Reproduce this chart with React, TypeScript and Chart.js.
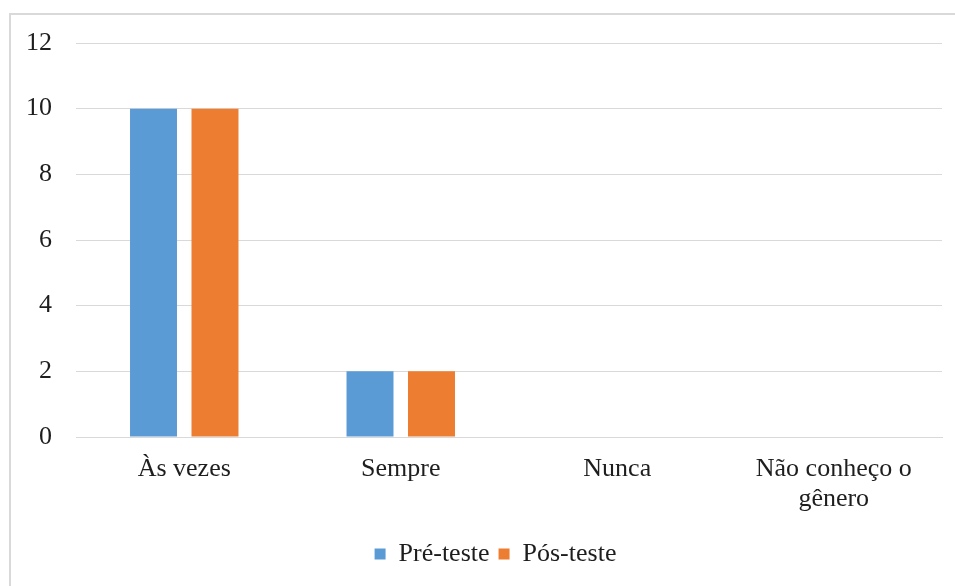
import React, { useEffect, useRef } from "react";
import { Chart, registerables } from "chart.js";

Chart.register(...registerables);

// Frequência das respostas, antes e depois da intervenção
const categories: (string | string[])[] = ["Às vezes", "Sempre", "Nunca", ["Não conheço o", "gênero"]];
const preTeste = [10, 2, 0, 0];
const posTeste = [10, 2, 0, 0];
const yTicks = [0, 2, 4, 6, 8, 10, 12];

const seriesNames = ["Pré-teste", "Pós-teste"];
const seriesColors = ["#5B9BD5", "#ED7D31"];

const FONT = "'Liberation Serif', 'Times New Roman', serif";
const GRID = "#d9d9d9";
const TEXT = "#1e1e1e";

// Thin frame around the chart object
const framePlugin = {
  id: "frame",
  beforeDraw(chart: Chart) {
    const { ctx, width, height } = chart;
    ctx.save();
    ctx.fillStyle = "#ffffff";
    ctx.fillRect(0, 0, width, height);
    ctx.strokeStyle = GRID;
    ctx.lineWidth = 2;
    ctx.beginPath();
    ctx.moveTo(10, height);
    ctx.lineTo(10, 14);
    ctx.lineTo(width, 14);
    ctx.stroke();
    ctx.restore();
  },
};

// Legend is centred on the span between the frame and the plot's right edge
const legendOffsetPlugin = {
  id: "legendOffset",
  afterLayout(chart: any) {
    const legend = chart.legend;
    if (legend) legend.left += 49;
  },
};

export default function App() {
  const ref = useRef<HTMLCanvasElement | null>(null);

  useEffect(() => {
    if (!ref.current) return;
    const chart = new Chart(ref.current, {
      type: "bar",
      data: {
        labels: categories,
        datasets: [
          {
            label: seriesNames[0],
            data: preTeste,
            backgroundColor: seriesColors[0],
            categoryPercentage: 0.568,
            barPercentage: 0.764,
          },
          {
            label: seriesNames[1],
            data: posTeste,
            backgroundColor: seriesColors[1],
            categoryPercentage: 0.568,
            barPercentage: 0.764,
          },
        ],
      },
      options: {
        responsive: false,
        animation: false,
        layout: { padding: { left: 0, right: 13, top: 43, bottom: 9 } },
        plugins: {
          tooltip: { enabled: false },
          legend: {
            position: "bottom",
            labels: {
              boxWidth: 11,
              boxHeight: 11,
              padding: 9,
              color: TEXT,
              font: { family: FONT, size: 26 },
            },
          },
        },
        scales: {
          x: {
            grid: { display: false, drawTicks: false },
            border: { display: true, color: GRID, width: 1 },
            ticks: {
              color: TEXT,
              padding: 17,
              maxRotation: 0,
              autoSkip: false,
              font: { family: FONT, size: 26, lineHeight: 1.15 },
            },
            afterFit(scale: any) {
              scale.height = 95;
            },
          },
          y: {
            min: 0,
            max: 12,
            afterBuildTicks(scale: any) {
              scale.ticks = yTicks.map((v) => ({ value: v }));
            },
            grid: { color: GRID, lineWidth: 1, drawTicks: false },
            border: { display: false },
            ticks: {
              color: TEXT,
              padding: 24,
              font: { family: FONT, size: 26 },
            },
            afterFit(scale: any) {
              scale.width = 76;
            },
          },
        },
      },
      plugins: [framePlugin, legendOffsetPlugin],
    });
    return () => chart.destroy();
  }, []);

  return (
    <div style={{ position: "absolute", left: 0, top: 0, width: 955, height: 586 }}>
      <canvas ref={ref} width={955} height={586} />
    </div>
  );
}
